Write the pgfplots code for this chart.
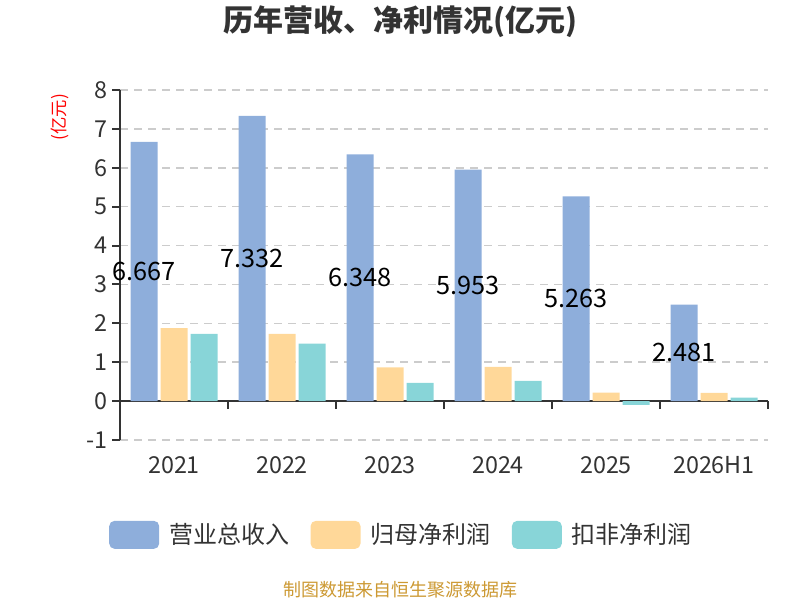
\documentclass[border=0pt]{standalone}
\usepackage{fontspec}
\setmainfont{Noto Sans CJK SC}
\usepackage{pgfplots}
\usepackage{pgfplotstable}
\pgfplotsset{compat=1.18}
\definecolor{cblue}{HTML}{8EAEDB}
\definecolor{corange}{HTML}{FFD899}
\definecolor{cteal}{HTML}{88D5D8}
\definecolor{ctext}{HTML}{333333}
\definecolor{cgrid}{HTML}{CCCCCC}
\definecolor{csrc}{HTML}{CC9933}

\pgfplotstableread{
x y
0 6.667
1 7.332
2 6.348
3 5.953
4 5.263
5 2.481
}\revenue
\pgfplotstableread{
x y
0 1.88
1 1.73
2 0.87
3 0.88
4 0.22
5 0.21
}\parent
\pgfplotstableread{
x y
0 1.73
1 1.48
2 0.47
3 0.52
4 -0.10
5 0.09
}\deducted

\begin{document}
\begin{tikzpicture}[x=1pt,y=1pt]
\useasboundingbox (0,0) rectangle (600,450);
\begin{axis}[
  at={(90pt,120pt)}, anchor=south west,
  width=486pt, height=262.5pt, scale only axis,
  xmin=-0.5, xmax=5.5, ymin=-1, ymax=8,
  clip=false,
  axis x line=middle, axis y line=left,
  axis line style={-, ctext, line width=1.5pt},
  tick align=outside,
  major tick length=6pt,
  tick style={ctext, line width=1.5pt},
  xtick={-0.5,0.5,...,5.5},
  xticklabels={},
  extra x ticks={0,1,2,3,4,5},
  extra x tick labels={2021,2022,2023,2024,2025,2026H1},
  extra x tick style={major tick length=0pt},
  xticklabel style={yshift=-38pt},
  ytick={-1,0,...,8},
  ymajorgrids,
  grid style={cgrid, line width=1.1pt, dash pattern=on 6pt off 4.5pt},
  ticklabel style={font=\fontsize{17.5}{19}\selectfont, text=ctext},
  /pgf/number format/assume math mode=true,
  ybar, bar width=20.25pt,
  legend columns=3,
  legend style={at={(0.435,-0.271)}, anchor=center, draw=none, fill=none,
    font=\fontsize{18}{20}\selectfont, text=ctext,
    /tikz/every odd column/.append style={column sep=5.5pt},
    /tikz/every even column/.append style={column sep=14pt}},
  mylegend/.style={legend image code/.code={\fill[##1, draw=none, rounded corners=4pt] (0pt,-10.5pt) rectangle (37.5pt,10.5pt);}},
]
\addplot[fill=cblue, draw=none, bar shift=-22.5pt, mylegend] table[x=x,y=y] {\revenue};
\addlegendentry{营业总收入}
\addplot[fill=corange, draw=none, bar shift=0pt, mylegend] table[x=x,y=y] {\parent};
\addlegendentry{归母净利润}
\addplot[fill=cteal, draw=none, bar shift=22.5pt, mylegend] table[x=x,y=y] {\deducted};
\addlegendentry{扣非净利润}
\addplot[sharp plot, draw=none, mark=none, forget plot, bar shift=0pt,
  nodes near coords, point meta=explicit symbolic,
  nodes near coords style={anchor=center, font=\fontsize{19}{21}\selectfont, text=black}]
  coordinates {(-0.278,3.3335)[6.667] (0.722,3.666)[7.332] (1.722,3.174)[6.348]
               (2.722,2.9765)[5.953] (3.722,2.6315)[5.263] (4.722,1.2405)[2.481]};
\end{axis}
\node[font=\fontsize{22.5}{26}\selectfont\bfseries, text=ctext] at (300,433.5) {历年营收、净利情况(亿元)};
\node[rotate=90, font=\fontsize{13}{15}\selectfont, text=red] at (45,362) {(亿元)};
\node[font=\fontsize{13.5}{15}\selectfont, text=csrc] at (300,8) {制图数据来自恒生聚源数据库};
\end{tikzpicture}
\end{document}
